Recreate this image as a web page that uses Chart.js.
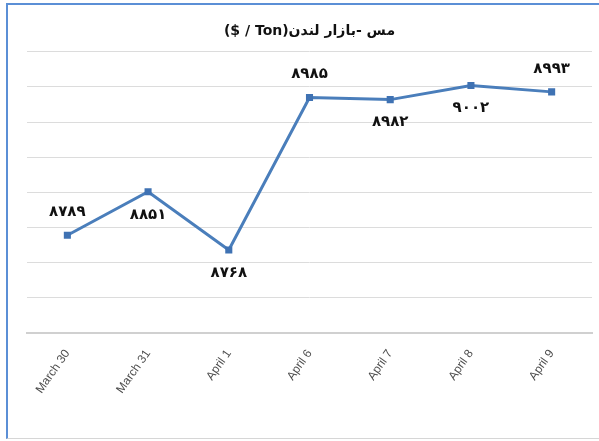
<!DOCTYPE html>
<html>
<head>
<meta charset="utf-8">
<script src="https://cdn.jsdelivr.net/npm/chart.js@4.4.1/dist/chart.umd.min.js"></script>
<style>
  html, body { margin: 0; padding: 0; background: #fff; }
  #wrap {
    position: absolute; left: 6px; top: 3px; width: 591px; height: 433px;
    border-left: 2px solid #5b8fd6; border-top: 2px solid #5b8fd6;
    border-bottom: 1px solid #d6d6d6;
  }
  canvas { display: block; }
</style>
</head>
<body>
<div id="wrap"><canvas id="myChart" width="591" height="433"></canvas></div>
<script>
const dates = ['March 30', 'March 31', 'April 1', 'April 6', 'April 7', 'April 8', 'April 9'];
const prices = [8789, 8851, 8768, 8985, 8982, 9002, 8993];
const yMin = 8650;
const yMax = 9050;
const yStep = 50;
const chartTitle = '($ / Ton)' + 'مس -بازار لندن';

const faDigits = '۰۱۲۳۴۵۶۷۸۹';
function toFa(n) {
    return String(n).replace(/\d/g, d => faDigits[d]);
}

// which side of the point each value label sits on
const labelSide = [-1, 1, 1, -1, 1, 1, -1];

const valueLabels = {
    id: 'valueLabels',
    afterDatasetsDraw(chart) {
        const ctx = chart.ctx;
        const meta = chart.getDatasetMeta(0);
        ctx.save();
        ctx.font = 'bold 15px "DejaVu Sans"';
        ctx.fillStyle = '#111';
        ctx.textAlign = 'center';
        ctx.textBaseline = 'middle';
        meta.data.forEach((pt, i) => {
            ctx.fillText(toFa(prices[i]), pt.x, pt.y + labelSide[i] * 23);
        });
        ctx.restore();
    }
};

const ctx = document.getElementById('myChart').getContext('2d');
new Chart(ctx, {
    type: 'line',
    data: {
        labels: dates,
        datasets: [{
            data: prices,
            borderColor: '#4a7ebb',
            borderWidth: 3,
            tension: 0,
            fill: false,
            pointStyle: 'rect',
            pointRadius: 5,
            pointBackgroundColor: '#3f72b3',
            pointBorderColor: '#3f72b3',
            pointBorderWidth: 0
        }]
    },
    options: {
        responsive: false,
        animation: false,
        layout: { padding: { left: 19, right: 7, top: 0, bottom: 0 } },
        plugins: {
            legend: { display: false },
            tooltip: { enabled: false },
            title: {
                display: true,
                text: chartTitle,
                color: '#111',
                font: { family: 'DejaVu Sans', size: 14, weight: 'bold' },
                padding: { top: 18, bottom: 12 }
            }
        },
        scales: {
            x: {
                offset: true,
                grid: { display: false },
                border: { color: '#d0d0d0', width: 2 },
                ticks: {
                    color: '#4d4d4d',
                    font: { family: 'Liberation Sans', size: 12 },
                    minRotation: 55,
                    maxRotation: 55,
                    padding: 6
                },
                afterFit(scale) { scale.height = 105; }
            },
            y: {
                min: yMin,
                max: yMax,
                ticks: { display: false, stepSize: yStep },
                grid: { color: '#dcdcdc', drawTicks: false },
                border: { display: false },
                afterFit(scale) { scale.width = 0; }
            }
        }
    },
    plugins: [valueLabels]
});
</script>
</body>
</html>
